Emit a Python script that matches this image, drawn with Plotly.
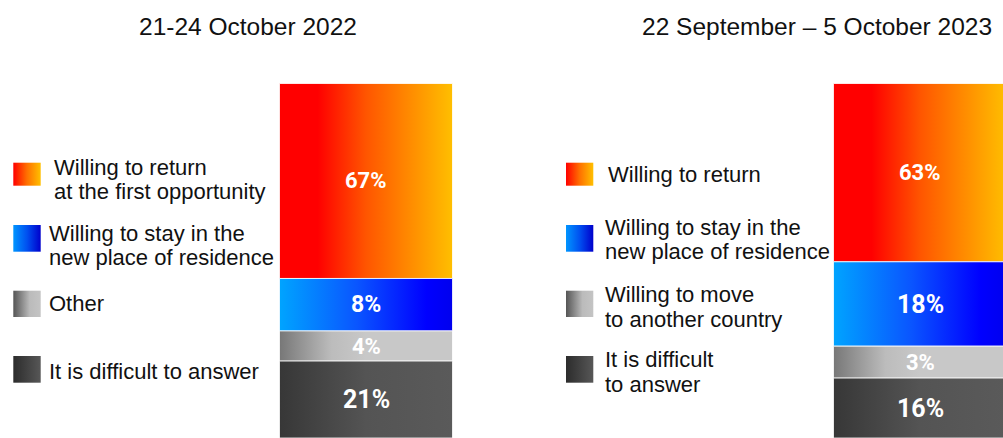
import plotly.graph_objects as go

# ---------------- data ----------------
periods = ["21-24 October 2022", "22 September – 5 October 2023"]
categories_2022 = ["Willing to return\nat the first opportunity",
                   "Willing to stay in the\nnew place of residence",
                   "Other",
                   "It is difficult to answer"]
categories_2023 = ["Willing to return",
                   "Willing to stay in the\nnew place of residence",
                   "Willing to move\nto another country",
                   "It is difficult\nto answer"]
# printed shares (top segment first)
pct_2022 = [67, 8, 4, 21]
pct_2023 = [63, 18, 3, 16]
# segment heights as drawn in the picture (the original bars are not to scale)
drawn_2022 = [55.0, 14.8, 8.5, 21.7]
drawn_2023 = [50.3, 23.8, 9.0, 16.9]

# ---------------- styles ----------------
SEG_SCALES = [
    [[0, "#ff0000"], [0.22, "#ff0000"], [0.5, "#ff5500"], [0.8, "#ff9500"], [1, "#ffbf00"]],
    [[0, "#00a4ff"], [0.45, "#0a55ff"], [0.85, "#0000ff"], [1, "#0000ee"]],
    [[0, "#777777"], [0.3, "#bcbcbc"], [0.5, "#c8c8c8"], [1, "#c8c8c8"]],
    [[0, "#373737"], [0.5, "#545454"], [1, "#5a5a5a"]],
]
KEY_SCALES = [
    [[0, "#ff0000"], [0.5, "#ff7000"], [1, "#ffc000"]],
    [[0, "#0095ff"], [0.5, "#0050f0"], [1, "#0000cc"]],
    [[0, "#555555"], [0.6, "#bbbbbb"], [1, "#c4c4c4"]],
    [[0, "#2c2c2c"], [1, "#575757"]],
]
LABEL_SIZES = [[22, 23, 22, 25], [22, 25, 22, 25]]

W, H = 1003, 438
BAR_W = 0.3123
Y_MAX = 100 * H / (H - 83.5)
X_RANGE = [-366 / 554, (W - 366) / 554]

fig = go.Figure()

def add_bar(center, drawn, pcts, sizes):
    n = len(drawn)
    for i in range(n):
        base = sum(drawn[i + 1:])
        top = base + drawn[i]
        x0, x1 = center - BAR_W / 2, center + BAR_W / 2
        fig.add_trace(go.Scatter(
            x=[x0, x1, x1, x0, x0], y=[base, base, top, top, base],
            mode="lines", fill="toself", line=dict(width=1, color="rgba(255,255,255,0.8)"),
            fillgradient=dict(type="horizontal", colorscale=SEG_SCALES[i]),
            hoverinfo="skip", showlegend=False, xaxis="x", yaxis="y"))
        fig.add_annotation(x=center, y=(base + top) / 2, xref="x", yref="y",
                           text=f"<b>{pcts[i]}%</b>", showarrow=False,
                           font=dict(family="Roboto", size=sizes[i], color="white"))

add_bar(0, drawn_2022, pct_2022, LABEL_SIZES[0])
add_bar(1, drawn_2023, pct_2023, LABEL_SIZES[1])

# ---------------- legends (pixel overlay axes) ----------------
KEY_Y = [(162.7, 185.7), (225, 251.7), (290.7, 317), (356, 382.7)]
KEY_X = [(13.3, 40.7), (566, 593.3)]
TEXT_X = [[51.5, 46.5, 46.5, 46.5], [606, 603, 603, 603]]
LINE_Y = [
    [[166, 190], [232, 256], [302.5], [370]],
    [[173], [226.3, 250.7], [293.6, 318], [358.5, 383]],
]
for p, cats in enumerate([categories_2022, categories_2023]):
    kx0, kx1 = KEY_X[p]
    for i, cat in enumerate(cats):
        ky0, ky1 = KEY_Y[i]
        fig.add_trace(go.Scatter(
            x=[kx0, kx1, kx1, kx0, kx0], y=[ky0, ky0, ky1, ky1, ky0],
            mode="lines", fill="toself", line=dict(width=0),
            fillgradient=dict(type="horizontal", colorscale=KEY_SCALES[i]),
            hoverinfo="skip", showlegend=False, xaxis="x2", yaxis="y2"))
        for line, ly in zip(cat.split("\n"), LINE_Y[p][i]):
            fig.add_annotation(x=TEXT_X[p][i], y=ly + 1, xref="x2", yref="y2",
                               text=line, showarrow=False, xanchor="left", yanchor="middle",
                               font=dict(family="Liberation Sans, Arial", size=22, color="#111111"))

TITLE_X = [247.5, 816.5]
for t, tx in zip(periods, TITLE_X):
    fig.add_annotation(x=tx, y=26, xref="x2", yref="y2", text=t, showarrow=False,
                       xanchor="center", yanchor="middle",
                       font=dict(family="Liberation Sans, Arial", size=24.5, color="#111111"))

fig.update_layout(
    width=W, height=H, margin=dict(l=0, r=0, t=0, b=0),
    paper_bgcolor="white", plot_bgcolor="white",
    xaxis=dict(range=X_RANGE, visible=False, fixedrange=True),
    yaxis=dict(range=[0, Y_MAX], visible=False, fixedrange=True),
    xaxis2=dict(range=[0, W], overlaying="x", visible=False, fixedrange=True),
    yaxis2=dict(range=[H, 0], overlaying="y", visible=False, fixedrange=True),
    showlegend=False,
)

fig.write_html("out.html", config={"displayModeBar": False})
